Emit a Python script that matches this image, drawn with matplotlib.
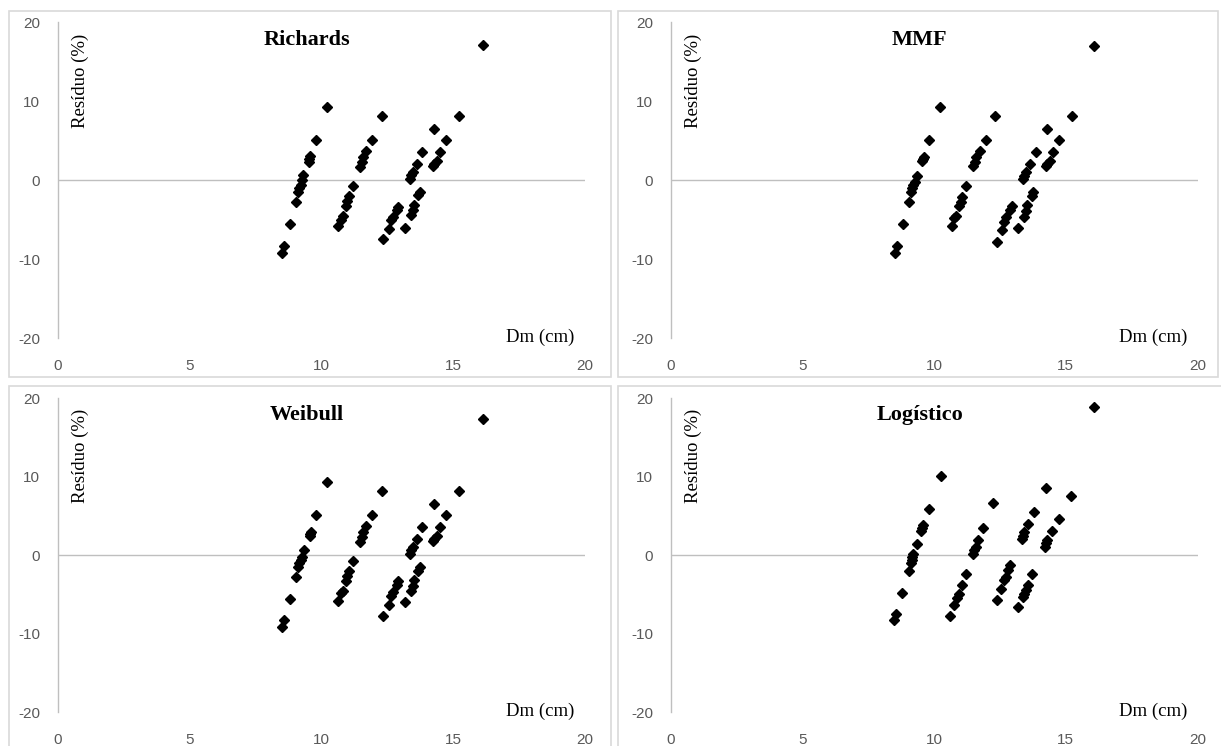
import matplotlib
matplotlib.use("Agg")
import matplotlib.pyplot as plt
from matplotlib.patches import Rectangle

plt.rcParams["axes.unicode_minus"] = False

# residuals (%) against Dm (cm)
rich_x = [8.51, 8.58, 8.80, 9.02, 9.12, 9.16, 9.21, 9.25, 9.31, 9.54, 9.54, 9.56, 9.78, 10.20,
          10.64, 10.73, 10.80, 10.93, 10.98, 11.04, 11.18, 11.46, 11.52, 11.59, 11.70, 11.93, 12.28,
          12.35, 12.56, 12.64, 12.70, 12.85, 12.92, 13.17, 13.40, 13.46, 13.52, 13.67, 13.74,
          13.36, 13.40, 13.46, 13.61, 13.83,
          14.22, 14.28, 14.37, 14.50, 14.72, 14.28, 15.23, 16.12]
rich_y = [-9.2, -8.3, -5.6, -2.8, -1.5, -1.0, -0.6, 0.0, 0.7, 2.3, 2.7, 3.1, 5.15, 9.25,
          -5.8, -5.0, -4.5, -3.3, -2.6, -2.0, -0.7, 1.7, 2.3, 3.0, 3.7, 5.15, 8.15,
          -7.5, -6.2, -5.05, -4.6, -3.8, -3.35, -6.0, -4.4, -3.8, -3.1, -1.9, -1.45,
          0.2, 0.65, 1.05, 2.1, 3.6,
          1.8, 2.1, 2.5, 3.6, 5.15, 6.55, 8.15, 17.2]

mmf_x = [8.51, 8.58, 8.82, 9.05, 9.12, 9.16, 9.21, 9.25, 9.33, 9.55, 9.58, 9.62, 9.80, 10.23,
         10.66, 10.75, 10.82, 10.95, 11.00, 11.06, 11.22, 11.48, 11.53, 11.60, 11.72, 11.95, 12.30,
         12.38, 12.58, 12.66, 12.72, 12.87, 12.94, 13.20, 13.42, 13.48, 13.54, 13.70, 13.76,
         13.38, 13.42, 13.48, 13.63, 13.85,
         14.24, 14.30, 14.38, 14.52, 14.74, 14.30, 15.25, 16.07]
mmf_y = [-9.2, -8.3, -5.6, -2.8, -1.5, -1.0, -0.6, -0.2, 0.6, 2.4, 2.7, 2.9, 5.15, 9.3,
         -5.8, -4.8, -4.5, -3.3, -2.8, -2.1, -0.7, 1.8, 2.3, 3.0, 3.7, 5.15, 8.15,
         -7.8, -6.3, -5.3, -4.7, -3.8, -3.3, -6.0, -4.6, -3.9, -3.1, -2.0, -1.5,
         0.2, 0.6, 1.0, 2.0, 3.6,
         1.8, 2.1, 2.5, 3.6, 5.15, 6.55, 8.15, 17.05]

weib_x = [8.51, 8.58, 8.80, 9.04, 9.12, 9.16, 9.21, 9.25, 9.32, 9.55, 9.58, 9.61, 9.80, 10.22,
          10.64, 10.73, 10.80, 10.93, 10.98, 11.04, 11.20, 11.46, 11.52, 11.59, 11.70, 11.93, 12.28,
          12.35, 12.56, 12.64, 12.70, 12.85, 12.92, 13.17, 13.40, 13.46, 13.52, 13.67, 13.74,
          13.36, 13.40, 13.46, 13.61, 13.83,
          14.22, 14.28, 14.37, 14.50, 14.72, 14.28, 15.23, 16.12]
weib_y = [-9.2, -8.3, -5.6, -2.8, -1.5, -1.0, -0.6, -0.2, 0.6, 2.4, 2.7, 2.9, 5.15, 9.25,
          -5.8, -4.8, -4.5, -3.3, -2.7, -2.0, -0.7, 1.7, 2.3, 3.0, 3.7, 5.15, 8.15,
          -7.8, -6.3, -5.2, -4.7, -3.8, -3.35, -6.0, -4.6, -3.9, -3.1, -2.0, -1.5,
          0.2, 0.65, 1.05, 2.0, 3.6,
          1.8, 2.1, 2.5, 3.6, 5.15, 6.55, 8.15, 17.3]

log_x = [8.47, 8.55, 8.76, 9.04, 9.11, 9.14, 9.16, 9.20, 9.36, 9.48, 9.52, 9.58, 9.80, 10.24,
         10.60, 10.75, 10.85, 10.94, 11.06, 11.20, 11.48, 11.52, 11.57, 11.67, 11.86, 12.22,
         12.40, 12.53, 12.66, 12.71, 12.79, 12.87, 13.20, 13.36, 13.42, 13.47, 13.55, 13.72,
         13.32, 13.36, 13.42, 13.57, 13.79,
         14.20, 14.24, 14.30, 14.46, 14.75, 14.23, 15.19, 16.08]
log_y = [-8.2, -7.5, -4.8, -2.0, -1.0, -0.6, -0.2, 0.2, 1.4, 3.05, 3.4, 3.8, 5.9, 10.05,
         -7.75, -6.35, -5.4, -4.95, -3.8, -2.45, 0.2, 0.6, 1.05, 1.9, 3.4, 6.65,
         -5.7, -4.35, -3.1, -2.75, -1.9, -1.27, -6.6, -5.3, -4.9, -4.45, -3.8, -2.4,
         2.0, 2.4, 2.95, 4.0, 5.5,
         1.05, 1.5, 1.9, 3.05, 4.55, 8.5, 7.55, 18.8]

titles = ["Richards", "MMF", "Weibull", "Logístico"]
series = [(rich_x, rich_y), (mmf_x, mmf_y), (weib_x, weib_y), (log_x, log_y)]
xticks = [0, 5, 10, 15, 20]
yticks = [-20, -10, 0, 10, 20]

W, H = 1221, 746
fig = plt.figure(figsize=(W / 100, H / 100), dpi=100)

# pixel boxes of the plot areas (left, top, right, bottom)
plot_px = [(58, 22.5, 585, 338), (671, 22.5, 1197.5, 338),
           (58, 398, 585, 712.3), (671, 398, 1197.5, 712.3)]
# pixel boxes of the gray chart frames
frame_px = [(8.5, 11.5, 611, 377), (618, 11.5, 1218, 377),
            (8.5, 386, 611, 770), (618, 386, 1240, 770)]

for (l, t, r, b) in frame_px:
    fig.patches.append(Rectangle((l / W, 1 - b / H), (r - l) / W, (b - t) / H,
                                 transform=fig.transFigure, fill=False,
                                 edgecolor="#d9d9d9", linewidth=1.2))

gray = "#595959"
for i, (l, t, r, b) in enumerate(plot_px):
    ax = fig.add_axes([l / W, 1 - b / H, (r - l) / W, (b - t) / H])
    ax.set_facecolor("none")
    x, y = series[i]
    ax.plot(x, y, linestyle="none", marker="D", markersize=5.5, color="black")
    ax.axhline(0, color="#bfbfbf", linewidth=1, zorder=0)
    ax.set_xlim(0, 20)
    ax.set_ylim(-20, 20)
    ax.set_xticks(xticks)
    ax.set_yticks(yticks)
    for s in ["top", "right", "bottom"]:
        ax.spines[s].set_visible(False)
    ax.spines["left"].set_color("#bfbfbf")
    ax.spines["left"].set_linewidth(1)
    ax.tick_params(axis="both", length=0, labelsize=11, labelcolor=gray)
    ax.tick_params(axis="y", pad=13)
    ax.tick_params(axis="x", pad=15)
    for lab in ax.get_xticklabels() + ax.get_yticklabels():
        lab.set_fontfamily("Liberation Sans")

    ax.text(9.45, 17.8, titles[i], ha="center", va="center", fontsize=16,
            fontweight="bold", family="Liberation Serif")
    ax.text(0.85, 12.6, "Resíduo (%)", rotation=90, ha="center", va="center",
            fontsize=13.5, family="Liberation Serif")
    ax.text(18.3, -19.9, "Dm (cm)", ha="center", va="center", fontsize=13.5,
            family="Liberation Serif", clip_on=False)

fig.savefig("out.png", dpi=100)
